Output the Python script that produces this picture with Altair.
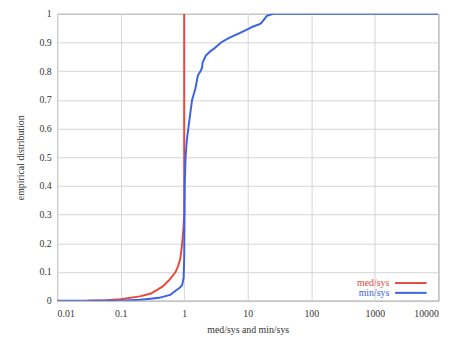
import altair as alt
import pandas as pd

red_x = [0.03, 0.06, 0.1, 0.2, 0.3, 0.46, 0.6, 0.73, 0.8, 0.87, 0.93, 0.97, 1.0, 1.0]
red_y = [0.0, 0.002, 0.005, 0.015, 0.025, 0.05, 0.075, 0.1, 0.12, 0.147, 0.2, 0.25, 0.3, 1.0]

blue_x = [0.01, 0.1, 0.2, 0.25, 0.4, 0.6, 0.73, 0.85, 0.93, 0.98, 1.0, 1.02, 1.05, 1.1, 1.2,
          1.33, 1.5, 1.64, 1.8, 1.9, 1.95, 2.2, 2.6, 3.0, 3.8, 5, 7, 8.7, 12, 16, 18, 20, 25,
          100, 10000]
blue_y = [0.0, 0.0, 0.003, 0.005, 0.01, 0.02, 0.035, 0.045, 0.055, 0.08, 0.15, 0.4, 0.5, 0.56,
          0.625, 0.70, 0.74, 0.785, 0.80, 0.81, 0.83, 0.855, 0.87, 0.88, 0.90, 0.915, 0.93, 0.94,
          0.955, 0.966, 0.98, 0.993, 1.0, 1.0, 1.0]

x_ticks = [0.01, 0.1, 1, 10, 100, 1000, 10000]
y_ticks = [0, 0.1, 0.2, 0.3, 0.4, 0.5, 0.6, 0.7, 0.8, 0.9, 1]
series_names = ["med/sys", "min/sys"]
series_colors = ["#e8473c", "#3a62e4"]

rows = []
for i, (x, y) in enumerate(zip(red_x, red_y)):
    rows.append({"x": x, "y": y, "s": series_names[0], "o": i})
for i, (x, y) in enumerate(zip(blue_x, blue_y)):
    rows.append({"x": x, "y": y, "s": series_names[1], "o": i})
df = pd.DataFrame(rows)

FONT = "Liberation Serif"

xenc = alt.X("x:Q", scale=alt.Scale(type="log", domain=[0.01, 10000]),
             axis=alt.Axis(values=x_ticks, labelExpr="format(datum.value, '~g')",
                           title="med/sys and min/sys", grid=True, ticks=False,
                           domain=False, labelPadding=8, titlePadding=6,
                           labelFont=FONT, titleFont=FONT, labelFontSize=10, titleFontSize=10))
yenc = alt.Y("y:Q", scale=alt.Scale(domain=[0, 1]),
             axis=alt.Axis(values=y_ticks, labelExpr="format(datum.value, '~g')",
                           title="empirical distribution", grid=True, ticks=False,
                           domain=False, labelPadding=6, titlePadding=14,
                           labelFont=FONT, titleFont=FONT, labelFontSize=10, titleFontSize=10))

lines = alt.Chart(df).mark_line(strokeWidth=2, clip=True).encode(
    x=xenc, y=yenc,
    color=alt.Color("s:N", scale=alt.Scale(domain=series_names, range=series_colors), legend=None),
    order="o:Q",
    detail="s:N",
)

leg = []
for i, (name, col) in enumerate(zip(series_names, series_colors)):
    yy = 274 + i * 10
    leg.append(alt.Chart(pd.DataFrame({"t": [name]})).mark_text(
        align="right", baseline="middle", font=FONT, fontSize=10, color=col).encode(
        text="t:N", x=alt.value(338), y=alt.value(yy)))
    leg.append(alt.Chart(pd.DataFrame({"t": [name]})).mark_rule(strokeWidth=2, color=col).encode(
        x=alt.value(344), x2=alt.value(376), y=alt.value(yy)))

chart = alt.layer(lines, *leg).properties(
    width=388, height=292,
    autosize=alt.AutoSizeParams(type="none"),
    padding={"left": 50, "top": 3, "right": 20, "bottom": 33},
).configure_view(stroke="#777777", strokeWidth=1).configure_axis(
    labelFont=FONT, titleFont=FONT, labelFontSize=10, titleFontSize=10,
    titleFontWeight="normal", labelColor="#333333", titleColor="#333333",
    gridColor="#d4d4d4", gridWidth=1,
)

chart.save("out.html", embed_options={"renderer": "svg", "actions": False})
